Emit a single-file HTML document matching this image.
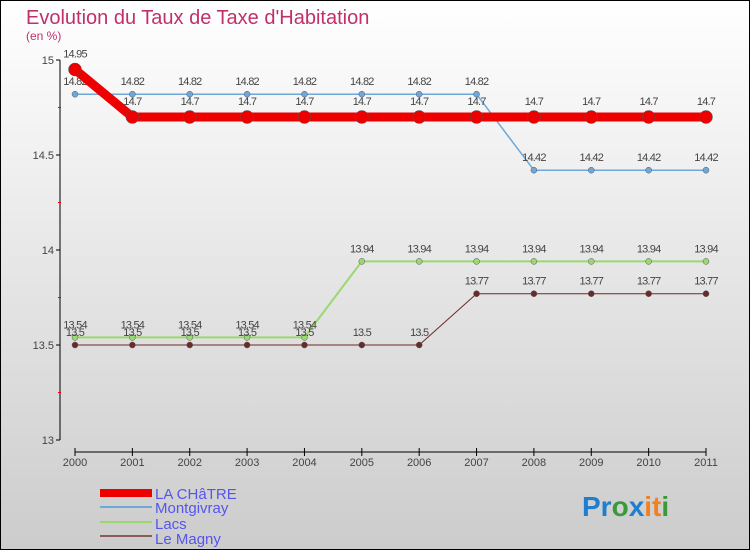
<!DOCTYPE html>
<html><head><meta charset="utf-8"><style>
body{margin:0}
svg text{font-family:"Liberation Sans",sans-serif}
</style></head><body>
<svg width="750" height="550" xmlns="http://www.w3.org/2000/svg">
<defs><linearGradient id="bg" x1="0" y1="0" x2="0" y2="1"><stop offset="0" stop-color="#ffffff"/><stop offset="1" stop-color="#cccccc"/></linearGradient></defs>
<rect x="0.5" y="0.5" width="749" height="549" fill="url(#bg)" stroke="#000"/>
<text x="26" y="24" font-size="20" fill="#c0306a">Evolution du Taux de Taxe d'Habitation</text>
<text x="26" y="40" font-size="12" fill="#c0306a">(en %)</text>
<g id="axes"></g>
<g id="plot"></g>
<g>
<rect x="100" y="489" width="52" height="8" fill="#e00"/>
<text x="155" y="499" font-size="15" fill="#5555ee">LA CHâTRE</text>
<line x1="100" y1="507" x2="152" y2="507" stroke="#6fa8d8" stroke-width="2"/>
<text x="155" y="513" font-size="15" fill="#5555ee">Montgivray</text>
<line x1="100" y1="522" x2="152" y2="522" stroke="#9ad870" stroke-width="2"/>
<text x="155" y="529" font-size="15" fill="#5555ee">Lacs</text>
<line x1="100" y1="536" x2="152" y2="536" stroke="#8b5a5a" stroke-width="2"/>
<text x="155" y="544" font-size="15" fill="#5555ee">Le Magny</text>
</g>
<g font-size="28" font-weight="bold">
<text x="582" y="516"><tspan fill="#1e7fd0">Pr</tspan><tspan fill="#3a9a3a">o</tspan><tspan fill="#1e7fd0">x</tspan><tspan fill="#f08020">it</tspan><tspan fill="#3a9a3a">i</tspan></text>
</g>
</svg>
<script>
const years=[2000,2001,2002,2003,2004,2005,2006,2007,2008,2009,2010,2011];
const yTicks=[13,13.5,14,14.5,15];
const laChatre=[14.95,14.7,14.7,14.7,14.7,14.7,14.7,14.7,14.7,14.7,14.7,14.7];
const montgivray=[14.82,14.82,14.82,14.82,14.82,14.82,14.82,14.82,14.42,14.42,14.42,14.42];
const lacs=[13.54,13.54,13.54,13.54,13.54,13.94,13.94,13.94,13.94,13.94,13.94,13.94];
const leMagny=[13.5,13.5,13.5,13.5,13.5,13.5,13.5,13.77,13.77,13.77,13.77,13.77];
const NS="http://www.w3.org/2000/svg";
const xs=i=>75+i*(706-75)/(years.length-1);
const ys=v=>60+(15-v)*190;
function mk(tag,attrs,parent,text){const e=document.createElementNS(NS,tag);for(const k in attrs)e.setAttribute(k,attrs[k]);if(text!==undefined)e.textContent=text;parent.appendChild(e);return e;}
const ax=document.getElementById('axes'),pl=document.getElementById('plot');
let a=mk('line',{x1:60,y1:60,x2:60,y2:440,stroke:'#000'},ax);


yTicks.forEach(t=>{mk('line',{x1:56,x2:60,y1:ys(t),y2:ys(t),stroke:'#000'},ax);
const l=mk('text',{x:54,y:ys(t)+4,'font-size':11,fill:'#444','text-anchor':'end'},ax,String(t));

});
[14.75,14.25,13.75,13.25].forEach(t=>mk('line',{x1:58,x2:61,y1:ys(t),y2:ys(t),stroke:'#e00'},ax));
a=mk('line',{x1:75,y1:452,x2:706,y2:452,stroke:'#000'},ax);


years.forEach((y,i)=>{mk('line',{x1:xs(i),x2:xs(i),y1:448,y2:456,stroke:'#000'},ax);
const l=mk('text',{x:xs(i),y:466,'font-size':11,fill:'#444','text-anchor':'middle'},ax,String(y));

});
function series(data,color,w,r,name,labOff){
const g=mk('g',{},pl);


mk('polyline',{points:data.map((v,i)=>xs(i)+','+ys(v)).join(' '),fill:'none',stroke:color,'stroke-width':w,'stroke-linejoin':'round'},g);
data.forEach((v,i)=>{const c=mk('circle',{cx:xs(i),cy:ys(v),r:r,fill:color,stroke:'#555','stroke-width':0.5},g);


const t=mk('text',{x:xs(i),y:ys(v)+labOff,'font-size':11,fill:'#444','text-anchor':'middle','letter-spacing':'-0.8'},g,String(v));

});}
series(montgivray,'#6fa8d8',1.5,3,'montgivray',-9);
series(lacs,'#9ad870',2,3,'lacs',-9);
series(leMagny,'#6b2a2a',1,3,'le-magny',-9);
series(laChatre,'#e00',9,6.5,'la-chatre',-12);
</script>
</body></html>
